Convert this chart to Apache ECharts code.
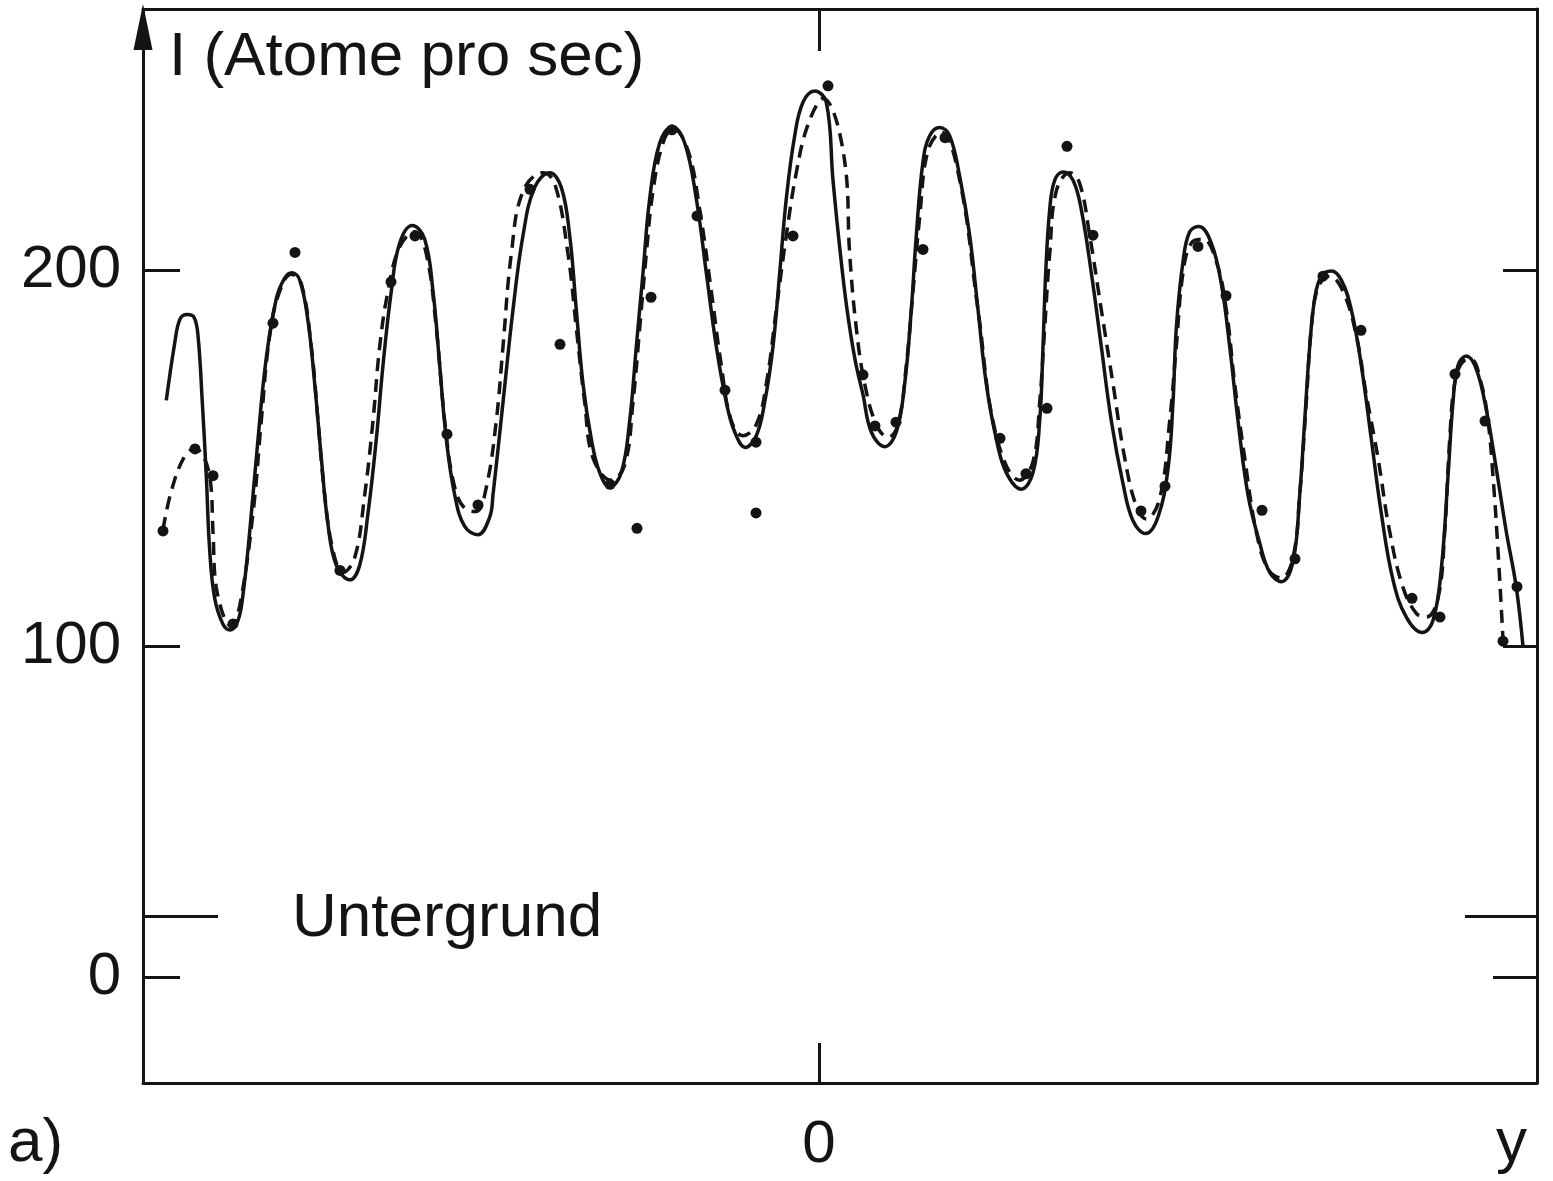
<!DOCTYPE html>
<html>
<head>
<meta charset="utf-8">
<script src="https://cdn.jsdelivr.net/npm/echarts@6/dist/echarts.min.js"></script>
<style>
html, body { margin: 0; padding: 0; background: #fff; }
#chart { width: 1553px; height: 1181px; }
</style>
</head>
<body>
<div id="chart"></div>
<script>
// Ort y (willkürliche Einheiten, 0 = Mitte) und Intensität I
// durchgezogene Kurve (Rechnung)
var solidX = [-6.527, -6.443, -6.39, -6.32, -6.25, -6.21, -6.167, -6.127, -6.093, -6.043, -5.96, -5.887,
    -5.81, -5.76, -5.693, -5.61, -5.527, -5.427, -5.343, -5.27, -5.193, -5.11, -5.043, -4.977, -4.91,
    -4.827, -4.693, -4.593, -4.51, -4.427, -4.36, -4.277, -4.193, -4.067, -3.943, -3.86, -3.793, -3.727,
    -3.643, -3.543, -3.41, -3.293, -3.26, -3.16, -3.06, -2.96, -2.843, -2.693, -2.577, -2.493, -2.427,
    -2.36, -2.277, -2.193, -2.093, -1.977, -1.893, -1.827, -1.76, -1.693, -1.593, -1.467, -1.343, -1.227,
    -1.127, -1.027, -0.927, -0.843, -0.737, -0.627, -0.543, -0.46, -0.393, -0.327, -0.243, -0.16, -0.043,
    0.073, 0.14, 0.21, 0.28, 0.36, 0.44, 0.523, 0.657, 0.773, 0.857, 0.923, 0.973, 1.04, 1.107, 1.207,
    1.307, 1.407, 1.507, 1.59, 1.673, 1.773, 1.873, 2.023, 2.14, 2.207, 2.24, 2.267, 2.307, 2.357, 2.44,
    2.54, 2.623, 2.723, 2.823, 2.923, 3.04, 3.14, 3.267, 3.39, 3.49, 3.54, 3.573, 3.64, 3.707, 3.8,
    3.923, 4.023, 4.107, 4.19, 4.29, 4.407, 4.507, 4.623, 4.74, 4.807, 4.857, 4.907, 4.957, 5.023,
    5.123, 5.223, 5.323, 5.423, 5.523, 5.623, 5.74, 5.873, 6.033, 6.14, 6.223, 6.29, 6.34, 6.39, 6.473,
    6.573, 6.673, 6.773, 6.873, 6.973, 7.04];
var solidY = [165.4, 180.6, 187.0, 188.2, 187.5, 182.6, 164.9, 145.2, 125.5, 112.8, 105.9, 104.4,
    106.9, 113.8, 130.5, 155.1, 176.7, 192.4, 197.9, 199.3, 197.4, 186.5, 169.8, 150.1, 132.4,
    121.6, 117.7, 121.6, 135.4, 155.1, 174.7, 194.4, 207.2, 211.9, 208.2, 194.4, 174.7, 155.1,
    140.3, 131.9, 129.7, 134.4, 140.3, 164.9, 189.5, 209.2, 222.0, 225.9, 222.0, 209.2, 189.5,
    169.8, 155.1, 146.2, 142.3, 146.2, 160.0, 179.7, 199.3, 219.0, 233.8, 238.2, 233.8, 219.0,
    199.3, 179.7, 164.9, 157.0, 152.9, 156.0, 164.9, 179.7, 199.3, 219.0, 235.7, 244.6, 247.6,
    244.6, 223.9, 205.3, 189.6, 176.3, 166.9, 157.0, 153.1, 157.0, 169.8, 189.5, 209.2, 228.9, 235.7, 237.9,
    235.7, 224.9, 209.2, 189.5, 169.8, 155.1, 146.2, 141.8, 146.2, 160.0, 179.7, 199.3, 216.1, 223.9, 226.1,
    223.9, 216.1, 199.3, 179.7, 160.0, 143.3, 133.4, 130.0, 134.4, 147.2, 164.9, 184.6, 202.3, 210.2, 211.6,
    207.2, 196.4, 179.7, 160.0, 140.3, 127.5, 119.7, 117.2, 122.6, 140.3, 160.0, 179.7, 192.4, 198.4,
    199.8, 197.4, 189.5, 174.7, 155.1, 135.4, 117.7, 107.8, 103.7, 106.9, 120.6, 145.2, 164.9, 174.7, 177.2,
    173.7, 162.9, 147.2, 130.5, 115.7, 100.0];

// gestrichelte Kurve
var dashX = [-6.56, -6.477, -6.343, -6.243, -6.093, -6.06, -6.027, -5.877, -5.793, -5.66, -5.577,
    -5.493, -5.393, -5.277, -5.177, -5.077, -5.01, -4.943, -4.86, -4.76, -4.643, -4.543, -4.46, -4.393,
    -4.31, -4.193, -4.043, -3.927, -3.827, -3.743, -3.643, -3.527, -3.427, -3.327, -3.227, -3.16, -3.077,
    -2.96, -2.76, -2.643, -2.51, -2.427, -2.343, -2.26, -2.077, -1.943, -1.86, -1.793, -1.727, -1.66,
    -1.56, -1.46, -1.31, -1.193, -1.077, -0.977, -0.877, -0.76, -0.627, -0.527, -0.427, -0.327, -0.227,
    -0.11, 0.04, 0.257, 0.307, 0.373, 0.457, 0.573, 0.69, 0.79, 0.873, 0.94, 1.007, 1.09, 1.223, 1.407,
    1.59, 1.773, 2.007, 2.14, 2.207, 2.257, 2.307, 2.373, 2.507, 2.607, 2.707, 2.823, 2.94, 3.057, 3.173,
    3.273, 3.407, 3.507, 3.573, 3.64, 3.723, 3.84, 3.973, 4.073, 4.157, 4.257, 4.373, 4.49, 4.623, 4.74,
    4.807, 4.873, 4.923, 4.99, 5.107, 5.24, 5.373, 5.473, 5.59, 5.707, 5.84, 5.973, 6.073, 6.19, 6.257,
    6.307, 6.357, 6.44, 6.523, 6.623, 6.69, 6.74, 6.79, 6.84];
var dashY = [131.0, 141.3, 150.6, 152.6, 145.2, 130.5, 115.7, 105.4, 110.8, 135.4, 160.0,
    182.6, 194.4, 198.9, 196.4, 179.7, 160.0, 140.3, 125.5, 119.7, 123.6, 140.3, 160.0, 179.7,
    194.4, 206.2, 210.2, 204.3, 184.6, 160.0, 142.3, 136.4, 135.9, 142.3, 160.0, 179.7, 204.3,
    221.0, 225.9, 223.0, 204.3, 184.6, 164.9, 150.1, 144.2, 148.2, 164.9, 184.6, 204.3, 221.0,
    233.8, 237.7, 231.8, 216.1, 194.4, 174.7, 160.0, 156.0, 159.0, 169.8, 189.5, 209.2, 225.9,
    238.7, 245.6, 228.9, 204.3, 184.6, 169.8, 159.0, 155.6, 159.0, 174.7, 194.4, 214.1, 231.8, 236.7, 223.9,
    189.5, 156.0, 144.2, 149.1, 164.9, 184.6, 204.3, 221.0, 225.9, 223.0, 209.2, 189.5, 169.8, 150.1, 137.3,
    133.9, 139.3, 160.0, 179.7, 199.3, 207.2, 208.2, 202.3, 189.5, 169.8, 150.1, 130.5, 120.6, 118.2, 123.6,
    140.3, 164.9, 184.6, 195.4, 198.4, 194.4, 182.6, 166.9, 150.1, 130.5, 115.7, 108.8, 107.8, 112.8, 130.5,
    155.1, 169.8, 175.7, 176.2, 169.8, 160.0, 145.2, 125.5, 101.9];

// Messpunkte
var dotX = [-6.56, -6.24, -6.06, -5.86, -5.46, -5.24, -4.79, -4.28, -4.04, -3.72, -3.41, -2.89,
    -2.59, -2.09, -1.82, -1.68, -1.47, -1.22, -0.94, -0.63, -0.63, -0.26, 0.09, 0.44, 0.56, 0.77,
    1.04, 1.26, 1.81, 2.07, 2.28, 2.48, 2.74, 3.22, 3.46, 3.79, 4.07, 4.43, 4.76, 5.04, 5.42, 5.93,
    6.21, 6.36, 6.66, 6.98, 6.84];
var dotY = [130.7, 152.5, 145.4, 106.0, 185.9, 204.7, 120.2, 196.9, 209.1, 156.4, 137.6, 221.5,
    180.3, 143.1, 131.4, 192.8, 237.3, 214.4, 168.1, 154.3, 135.5, 209.1, 249.0, 172.2, 158.6, 159.6,
    205.5, 235.2, 155.3, 145.9, 163.3, 232.9, 209.3, 136.0, 142.6, 206.3, 193.2, 136.2, 123.3, 198.4,
    184.0, 112.8, 107.8, 172.4, 159.9, 115.9, 101.4];

// Achsen (die Null der Vorlage sitzt gestaucht unter der 100)
var yTickValues = [12, 100, 200];
var yTickLabels = ["0", "100", "200"];
var untergrund = 28.2;
var xTickValues = [0];

var ink = "#141414";
var font = "'Liberation Sans', Arial, Helvetica, sans-serif";

function pairs(xs, ys) {
    return xs.map(function (x, i) { return [x, ys[i]]; });
}

var chart = echarts.init(document.getElementById("chart"));

function yAx(pos, ticks, len, showLine) {
    return {
        type: "value",
        position: pos,
        min: -16,
        max: 269.4,
        splitLine: { show: false },
        axisLine: { show: showLine, onZero: false, lineStyle: { color: ink, width: 3 } },
        axisTick: { show: true, inside: true, length: len, customValues: ticks,
            lineStyle: { color: ink, width: 3 } },
        axisLabel: { show: false }
    };
}

var yLeft = yAx("left", yTickValues, 37, true);
yLeft.axisLine.symbol = ["none", "triangle"];
yLeft.axisLine.symbolSize = [19, 46];
yLeft.axisLine.symbolOffset = [0, -18];
yLeft.axisLabel = {
    show: true,
    customValues: yTickValues,
    formatter: function (v) {
        var i = yTickValues.indexOf(v);
        return i >= 0 ? yTickLabels[i] : "";
    },
    margin: 22,
    fontSize: 60,
    fontFamily: font,
    color: ink
};

var option = {
    backgroundColor: "#fff",
    animation: false,
    grid: { left: 143, right: 16, top: 9, bottom: 98, outerBoundsMode: "none" },
    title: {
        text: "I (Atome pro sec)",
        left: 164,
        top: 22,
        textStyle: { fontSize: 62, fontWeight: "normal", fontFamily: font, color: ink }
    },
    xAxis: [
        {
            type: "value",
            position: "bottom",
            min: -6.76,
            max: 7.18,
            splitLine: { show: false },
            axisLine: { show: true, onZero: false, lineStyle: { color: ink, width: 3 } },
            axisTick: { show: true, inside: true, length: 40, customValues: xTickValues,
                lineStyle: { color: ink, width: 3 } },
            axisLabel: { customValues: xTickValues, margin: 62, verticalAlign: "middle",
                fontSize: 60, fontFamily: font, color: ink }
        },
        {
            type: "value",
            position: "top",
            min: -6.76,
            max: 7.18,
            splitLine: { show: false },
            axisLine: { show: true, onZero: false, lineStyle: { color: ink, width: 3 } },
            axisTick: { show: true, inside: true, length: 42, customValues: xTickValues,
                lineStyle: { color: ink, width: 3 } },
            axisLabel: { show: false }
        }
    ],
    yAxis: [
        yLeft,
        yAx("left", [untergrund], 75, false),
        yAx("right", [100, 200], 34, true),
        yAx("right", [12], 44, false),
        yAx("right", [untergrund], 72, false)
    ],
    graphic: [
        { type: "text", left: 292, top: 888,
          style: { text: "Untergrund", fontSize: 62, fontFamily: font, fill: ink } },
        { type: "text", left: 8, top: 1113,
          style: { text: "a)", fontSize: 62, fontFamily: font, fill: ink } },
        { type: "text", left: 1496, top: 1113,
          style: { text: "y", fontSize: 62, fontFamily: font, fill: ink } }
    ],
    series: [
        {
            name: "Rechnung",
            type: "line",
            data: pairs(solidX, solidY),
            smooth: 0.4,
            symbol: "none",
            lineStyle: { color: ink, width: 3.5 },
            z: 2
        },
        {
            name: "Rechnung 2",
            type: "line",
            data: pairs(dashX, dashY),
            smooth: 0.4,
            symbol: "none",
            lineStyle: { color: ink, width: 3.5, type: [13, 8] },
            z: 2
        },
        {
            name: "Messung",
            type: "scatter",
            data: pairs(dotX, dotY),
            symbol: "circle",
            symbolSize: 11,
            itemStyle: { color: ink, opacity: 1 },
            z: 3
        }
    ]
};

chart.setOption(option);
</script>
</body>
</html>
